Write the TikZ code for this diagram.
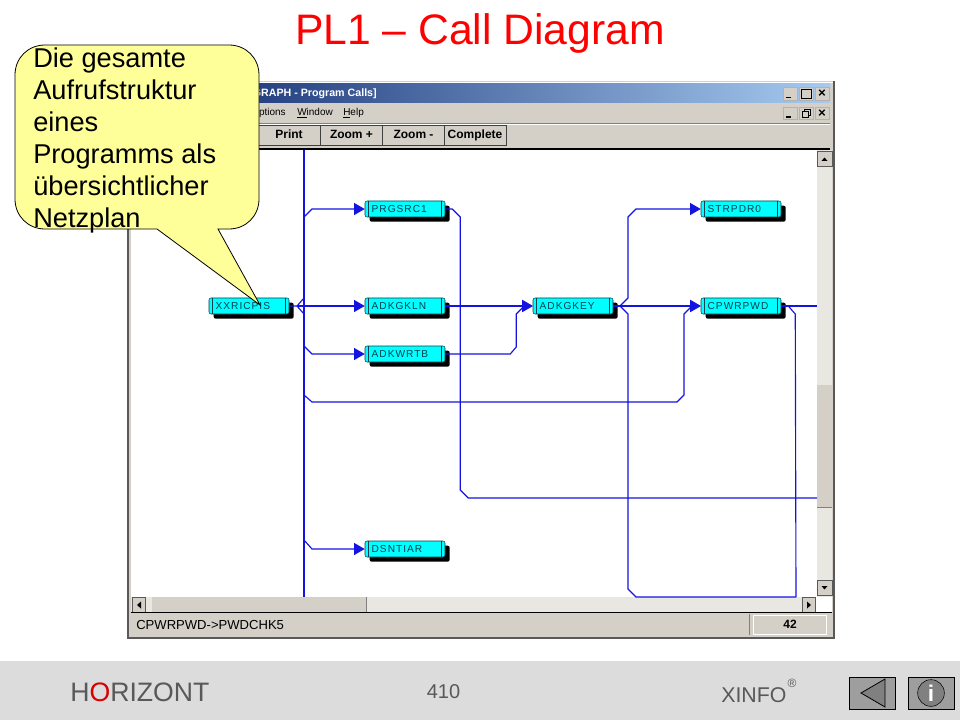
\documentclass[tikz,border=0pt]{standalone}
\usepackage{fontspec}
\setmainfont{Liberation Sans}
\newfontfamily\modfont[LetterSpace=10]{Liberation Sans}
\usetikzlibrary{arrows.meta, shadows}
\definecolor{winface}{HTML}{D4D0C8}
\definecolor{wireblue}{HTML}{1414E0}
\definecolor{modfill}{HTML}{00FFFF}
\definecolor{modtext}{HTML}{00404F}
\definecolor{bubblefill}{HTML}{FFFF99}
\definecolor{hatch}{HTML}{E9E7E2}
\definecolor{barleft}{HTML}{0A246A}
\definecolor{barright}{HTML}{A6CAF0}
\definecolor{footgray}{HTML}{DCDCDC}
\definecolor{foottext}{HTML}{595959}
\tikzset{modul/.style={draw=modtext, fill=modfill, rounded corners=1.5pt, minimum height=12pt, inner xsep=5pt, inner ysep=0pt, text width=50pt, align=left, text=modtext, font=\modfont\fontsize{7.6}{8}\selectfont, drop shadow={shadow xshift=3.5pt, shadow yshift=-3.5pt, fill=black, opacity=1}, path picture={
    \draw[modtext, line width=.5pt] ([xshift=2.2pt]path picture bounding box.north west) -- ([xshift=2.2pt]path picture bounding box.south west);
    \draw[modtext, line width=.5pt] ([xshift=-3pt]path picture bounding box.north east) -- ([xshift=-3pt]path picture bounding box.south east);}}}
\tikzset{wire/.style={draw=wireblue, line width=.85pt}}
\tikzset{wirearr/.style={wire, -{Triangle[length=8pt, width=9pt]}}}
\tikzset{raised/.style={draw=gray!70!black, fill=winface, line width=.5pt}}
\tikzset{tbtn/.style={raised, draw=black!75, line width=.7pt, inner sep=0pt, minimum width=46.5pt, minimum height=15pt, text height=7pt, text depth=2pt, font=\bfseries\fontsize{9}{10}\selectfont}}
\tikzset{wbtn/.style={raised, draw=gray!60, inner sep=0pt, minimum width=10.5pt, minimum height=9.5pt, font=\bfseries\fontsize{10}{10}\selectfont}}
\tikzset{menu/.style={inner sep=0pt, font=\fontsize{7.5}{9}\selectfont}}
\tikzset{footbtn/.style={draw=black, fill=black!38, line width=.6pt}}
\begin{document}
\begin{tikzpicture}[x=.75pt, y=-.75pt]
\useasboundingbox (0,0) rectangle (960,720);
% window frame
\fill[winface] (127,81) rectangle (834,638);
\draw[gray!70!black, line width=.8pt] (834,81) -- (834,638) -- (127,638);
\draw[gray!70!black, line width=.8pt] (128,81) -- (128,638);
\draw[white, line width=.6pt] (129,82) -- (833,82);
\shade[left color=barleft, right color=barright] (131,84) rectangle (830,103);
\node[anchor=east, inner sep=0pt, text=white, font=\bfseries\fontsize{8}{10}\selectfont] (wintitle) at (377,93.5) {GRAPH - Program Calls]};
\node[menu, anchor=east] (mOptions) at (286,113.5) {\underline{O}ptions};
\node[menu, anchor=west] (mWindow) at (297,113.5) {\underline{W}indow};
\node[menu, anchor=west] (mHelp) at (343,113.5) {\underline{H}elp};
\foreach \y/\s in {94/a, 113.5/b} {
    \node[wbtn] (min\s) at (790,\y) {};
    \draw[black, line width=1.2pt] ([xshift=-3pt,yshift=-2.5pt]min\s.center) -- ++(5,0);
    \node[wbtn] (max\s) at (806,\y) {};
    \node[wbtn] (cls\s) at (822,\y) {\symbol{"00D7}};
}
\draw[black, line width=.7pt] (801,89.5) rectangle (811,98.5);
\draw[black, line width=.6pt] (802,111) rectangle (808,117) (804,111) -- (804,109) -- (810,109) -- (810,115) -- (808,115);
\draw[gray, line width=.5pt] (131,123) -- (830,123);
\draw[white, line width=.5pt] (131,124) -- (830,124);
\foreach \t/\x in {Print/289, Zoom +/351.5, Zoom -/413.5, Complete/475} {
    \node[tbtn] (btn\x) at (\x,135.5) {\t};
}
% drawing area
\fill[white] (131,150) rectangle (817,597);
\draw[black, line width=1.4pt] (131,149) -- (830,149);
\fill[hatch] (817,150) rectangle (832,597);
\fill[winface] (817,385) rectangle (832,507);
\draw[gray, line width=.5pt] (817,507) -- (832,507);
\node[raised, minimum width=11pt, minimum height=11pt, inner sep=0pt] (upbtn) at (824.5,159) {};
\fill[black] (821.5,161) -- (827.5,161) -- (824.5,157.5) -- cycle;
\node[raised, minimum width=11pt, minimum height=11pt, inner sep=0pt] (downbtn) at (824.5,588) {};
\fill[black] (821.5,586) -- (827.5,586) -- (824.5,589.5) -- cycle;
\fill[hatch] (131,597) rectangle (816,612);
\fill[winface] (152,597) rectangle (366,612);
\draw[gray, line width=.5pt] (366,597) -- (366,612);
\node[raised, minimum width=9.5pt, minimum height=11pt, inner sep=0pt] (leftbtn) at (139,605) {};
\fill[black] (141,601.5) -- (141,608.5) -- (137,605) -- cycle;
\node[raised, minimum width=9.5pt, minimum height=11pt, inner sep=0pt] (rightbtn) at (809,605) {};
\fill[black] (807,601.5) -- (807,608.5) -- (811,605) -- cycle;
\fill[white] (816,597) rectangle (832,612);
\draw[black, line width=.7pt] (131,612.5) -- (832,612.5);
\node[anchor=west, inner sep=0pt, font=\fontsize{9.8}{11}\selectfont] (status) at (136,624.5) {CPWRPWD->PWDCHK5};
\draw[gray, line width=.5pt] (749,614) -- (749,635);
\node[draw=white, fill=winface, minimum width=55pt, minimum height=14pt, inner sep=0pt, font=\bfseries\fontsize{9}{10}\selectfont] (count) at (790,624.5) {42};
% modules
\node[modul] (XXRICPIS) at (249,306) {XXRICPIS};
\node[modul] (PRGSRC1) at (405,209) {PRGSRC1};
\node[modul] (ADKGKLN) at (405,306) {ADKGKLN};
\node[modul] (ADKWRTB) at (405,354) {ADKWRTB};
\node[modul] (DSNTIAR) at (405,549) {DSNTIAR};
\node[modul] (ADKGKEY) at (573,306) {ADKGKEY};
\node[modul] (CPWRPWD) at (741,306) {CPWRPWD};
\node[modul] (STRPDR0) at (741,209) {STRPDR0};
% connectors
\coordinate (trunktop) at (304,150);
\coordinate (trunkbot) at (304,597);
\coordinate (forkA) at (297,306);
\coordinate (forkB) at (620,306);
\coordinate (edgeA) at (817,498);
\coordinate (edgeB) at (817,306);
\coordinate (downB) at (796,597);
\draw[wire] (trunktop) -- (trunkbot);
\draw[wire] (XXRICPIS.east) -- (forkA) -- ++(7,-8);
\draw[wire] (forkA) -- ++(7,8);
\draw[wirearr] (304,217) -- ++(8,-8) -- (PRGSRC1.west);
\draw[wirearr] (forkA) -- (ADKGKLN.west);
\draw[wirearr] (304,346) -- ++(8,8) -- (ADKWRTB.west);
\draw[wirearr] (304,540) -- ++(8,9) -- (DSNTIAR.west);
\draw[wirearr] (304,395) -- ++(8,7) -- ++(365,0) -- ++(7,-7) -- ++(0,-81) -- ++(8,-8) -- (CPWRPWD.west);
\draw[wire] (PRGSRC1.east) -- ++(7,0) -- ++(8,8) -- ++(0,273) -- ++(8,8) -- (edgeA);
\draw[wirearr] (ADKGKLN.east) -- (ADKGKEY.west);
\draw[wirearr] (ADKWRTB.east) -- ++(65,0) -- ++(6,-7) -- ++(0,-33) -- ++(8,-8) -- (ADKGKEY.west);
\draw[wire] (ADKGKEY.east) -- (forkB);
\draw[wirearr] (forkB) -- (CPWRPWD.west);
\draw[wirearr] (forkB) -- ++(8,-8) -- ++(0,-81) -- ++(8,-8) -- (STRPDR0.west);
\draw[wire] (forkB) -- ++(8,8) -- ++(0,275) -- ++(8,8) -- (downB);
\draw[wire] (CPWRPWD.east) -- (edgeB);
\draw[wire] (CPWRPWD.east) -- ++(7,0) -- ++(7,8) -- (downB);
% callout
\draw[fill=bubblefill, draw=black, line width=.6pt] (45,45) -- (229,45) .. controls (246,45) and (259,58) .. (259,75) -- (259,199) .. controls (259,216) and (246,229) .. (229,229) -- (218,229) -- (260,305) -- (157,229) -- (45,229) .. controls (28,229) and (15,216) .. (15,199) -- (15,75) .. controls (15,58) and (28,45) .. (45,45) -- cycle;
\node[anchor=north west, inner sep=0pt, align=left, font=\fontsize{20.4}{24}\selectfont] (bubbletext) at (33,48) {Die gesamte\\Aufrufstruktur\\eines\\Programms als\\übersichtlicher\\Netzplan};
% title and footer
\node[text=red, inner sep=0pt, font=\fontsize{32}{36}\selectfont] (title) at (480,33) {PL1 – Call Diagram};
\fill[footgray] (0,661) rectangle (960,720);
\node[anchor=west, inner sep=0pt, text=foottext, font=\fontsize{20}{24}\selectfont] (horizont) at (70,692) {H\textcolor{red!85!black}{O}RIZONT};
\node[inner sep=0pt, text=foottext, font=\fontsize{15}{18}\selectfont] (pagenum) at (443.5,692) {410};
\node[anchor=west, inner sep=0pt, text=foottext, font=\fontsize{16}{18}\selectfont] (xinfo) at (721,695) {XINFO};
\node[inner sep=0pt, text=foottext, font=\fontsize{9}{10}\selectfont] (regmark) at (792,683) {®};
\node[footbtn, minimum width=34.5pt, minimum height=24pt, inner sep=0pt] (backbtn) at (872.5,693) {};
\draw[black, fill=black!50, line width=.6pt] (861,693) -- (885,679) -- (885,707) -- cycle;
\node[footbtn, minimum width=34.5pt, minimum height=24pt, inner sep=0pt] (infobtn) at (931,693) {};
\node[draw=black, fill=black!50, circle, minimum size=20pt, inner sep=0pt, text=white, font=\bfseries\fontsize{17}{17}\selectfont] (infosign) at (931,693) {i};
\end{tikzpicture}
\end{document}
